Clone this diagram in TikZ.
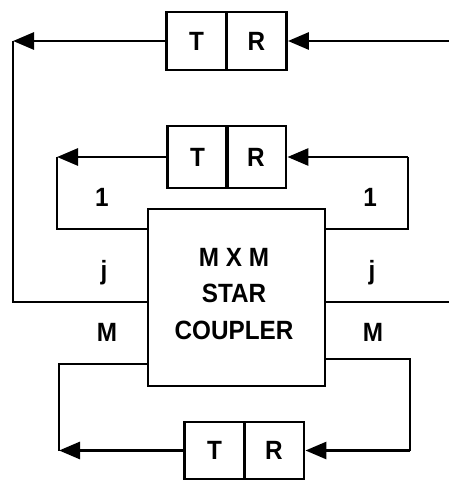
\documentclass[tikz,border=0pt]{standalone}
\usepackage{fontspec}
\setmainfont[FakeStretch=0.92]{Liberation Sans}
\usetikzlibrary{arrows.meta}
\begin{document}
\begin{tikzpicture}[x=1bp,y=-1bp,
  line width=2.9bp,
  every node/.style={font=\fontsize{26.5}{37}\selectfont\bfseries},
  cell/.style={draw, inner sep=0pt, minimum width=60bp, minimum height=#1},
  cell/.default=58bp,
  lbl/.style={inner sep=0pt},
  arr/.style={-{Triangle[length=21bp,width=17bp]}},
]
\useasboundingbox (0,0) rectangle (449,483);
% star coupler
\node[draw, inner sep=0pt, minimum width=177bp, minimum height=177bp]
  (cpl) at (236.5,297.5) {};
\node[lbl, align=center] (cpltxt) at (234,294) {M X M\\STAR\\COUPLER};
% top TR
\node[cell] (t1) at (196.5,41) {T};
\node[cell] (r1) at (256.5,41) {R};
% middle TR
\node[cell=62bp] (t2) at (197.5,157) {T};
\node[cell=62bp] (r2) at (256,157) {R};
% bottom TR
\node[cell=57bp] (t3) at (214.5,450.5) {T};
\node[cell=57bp] (r3) at (274,450.5) {R};
% coordinates
\coordinate (a1) at (13,41);
\coordinate (a2) at (13,302);
\coordinate (ain) at (449,41);
\coordinate (aout) at (449,302);
\coordinate (b1) at (57,157);
\coordinate (b2) at (57,229);
\coordinate (b3) at (408,229);
\coordinate (b4) at (408,157);
\coordinate (c1) at (59,450.5);
\coordinate (c2) at (59,364);
\coordinate (c3) at (410,359);
\coordinate (c4) at (410,450.5);
% top loop
\draw[arr] (t1.west) -- (a1);
\draw (a1) -- (a2) -- (cpl.west |- a2);
\draw[arr] (ain) -- (r1.east);
\draw (cpl.east |- aout) -- (aout);
% middle loop
\draw[arr] (t2.west) -- (b1);
\draw (b1) -- (b2) -- (cpl.west |- b2);
\draw (cpl.east |- b3) -- (b3) -- (b4);
\draw[arr] (b4) -- (r2.east);
% bottom loop
\draw[arr] (t3.west) -- (c1);
\draw (c1) -- (c2) -- (cpl.west |- c2);
\draw (cpl.east |- c3) -- (c3) -- (c4);
\draw[arr] (c4) -- (r3.east);
% labels
\node[lbl] (l1) at (102,197) {1};
\node[lbl] (r1l) at (370,197) {1};
\node[lbl] (lj) at (104,273) {j};
\node[lbl] (rj) at (372,273) {j};
\node[lbl] (lm) at (107,332) {M};
\node[lbl] (rm) at (373,332) {M};
\end{tikzpicture}
\end{document}
